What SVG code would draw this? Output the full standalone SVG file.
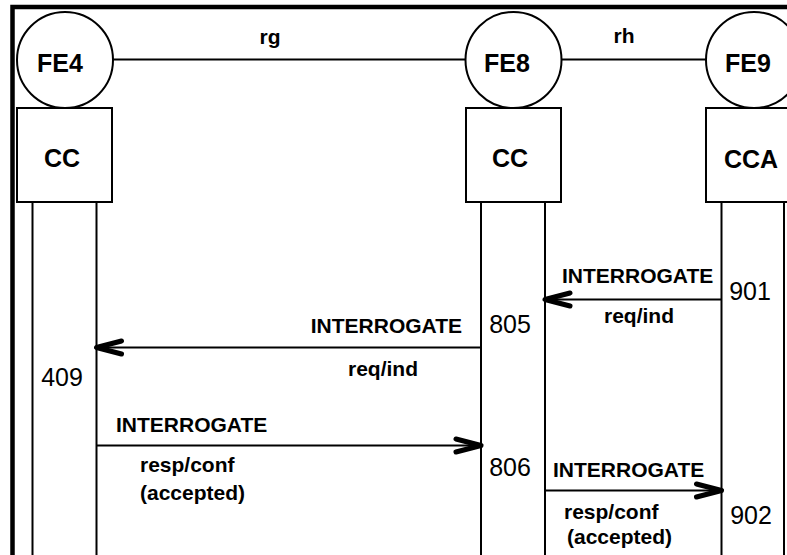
<svg xmlns="http://www.w3.org/2000/svg" width="787" height="555" viewBox="0 0 787 555">
<style>
.ln{fill:none;stroke:#000;stroke-width:2}
.nd{fill:#fff;stroke:#000;stroke-width:2}
.t{font-family:"Liberation Sans",Arial,sans-serif;fill:#000}
.b{font-weight:bold}
.hd{font-size:25px;font-weight:bold;text-anchor:middle}
.lb{font-size:21px;font-weight:bold}
.num{font-size:25px}
.mid{text-anchor:middle}
.end{text-anchor:end}
</style>
<defs>
<marker id="ah" markerUnits="userSpaceOnUse" markerWidth="40" markerHeight="30" viewBox="-30 -15 40 30" refX="0" refY="0" orient="auto" overflow="visible">
<path d="M-25,-6.5 L0,0 L-25,6.5" fill="none" stroke="#000" stroke-width="5" stroke-linecap="round" stroke-linejoin="round"/>
</marker>
</defs>
<rect width="787" height="555" fill="#fff"/>
<path d="M12.5,555 V7 H787" fill="none" stroke="#000" stroke-width="4.5"/>
<g id="connectors">
<line class="ln" x1="113" y1="59.5" x2="465.5" y2="59.5"/>
<line class="ln" x1="561.5" y1="59.5" x2="706" y2="59.5"/>
<text class="t lb mid" x="270" y="44">rg</text>
<text class="t lb mid" x="624" y="43">rh</text>
<line class="ln" x1="721.5" y1="299.5" x2="545" y2="299.5" marker-end="url(#ah)"/>
<line class="ln" x1="481" y1="347.5" x2="96.5" y2="347.5" marker-end="url(#ah)"/>
<line class="ln" x1="96.5" y1="445.5" x2="481" y2="445.5" marker-end="url(#ah)"/>
<line class="ln" x1="545" y1="490.5" x2="721.5" y2="490.5" marker-end="url(#ah)"/>
<text class="t lb" x="562" y="283">INTERROGATE</text>
<text class="t lb mid" x="639" y="323">req/ind</text>
<text class="t lb end" x="462" y="333">INTERROGATE</text>
<text class="t lb mid" x="383" y="376">req/ind</text>
<text class="t lb" x="116" y="432">INTERROGATE</text>
<text class="t lb" x="140" y="472">resp/conf</text>
<text class="t lb" x="140" y="500">(accepted)</text>
<text class="t lb" x="553" y="477">INTERROGATE</text>
<text class="t lb" x="564" y="519">resp/conf</text>
<text class="t lb" x="567" y="544">(accepted)</text>
</g>
<g id="FE4">
<circle class="nd" cx="65" cy="60" r="48"/>
<text class="t hd" x="60" y="72">FE4</text>
<rect class="nd" x="17" y="108" width="95" height="94"/>
<text class="t hd" x="62" y="167">CC</text>
<line class="ln" x1="32.5" y1="202" x2="32.5" y2="555"/>
<line class="ln" x1="96.5" y1="202" x2="96.5" y2="555"/>
<text class="t num mid" x="62" y="386">409</text>
</g>
<g id="FE8">
<circle class="nd" cx="513.5" cy="60" r="48"/>
<text class="t hd" x="507" y="72">FE8</text>
<rect class="nd" x="466" y="108" width="95" height="94"/>
<text class="t hd" x="510" y="167">CC</text>
<line class="ln" x1="481" y1="202" x2="481" y2="555"/>
<line class="ln" x1="545" y1="202" x2="545" y2="555"/>
<text class="t num mid" x="510" y="333">805</text>
<text class="t num mid" x="510" y="476">806</text>
</g>
<g id="FE9">
<circle class="nd" cx="754" cy="60" r="48"/>
<text class="t hd" x="748" y="72">FE9</text>
<rect class="nd" x="706" y="108" width="95" height="94"/>
<text class="t hd" x="751" y="168">CCA</text>
<line class="ln" x1="721.5" y1="202" x2="721.5" y2="555"/>
<line class="ln" x1="784" y1="202" x2="784" y2="555"/>
<text class="t num mid" x="750" y="300">901</text>
<text class="t num mid" x="751" y="524">902</text>
</g>
</svg>
